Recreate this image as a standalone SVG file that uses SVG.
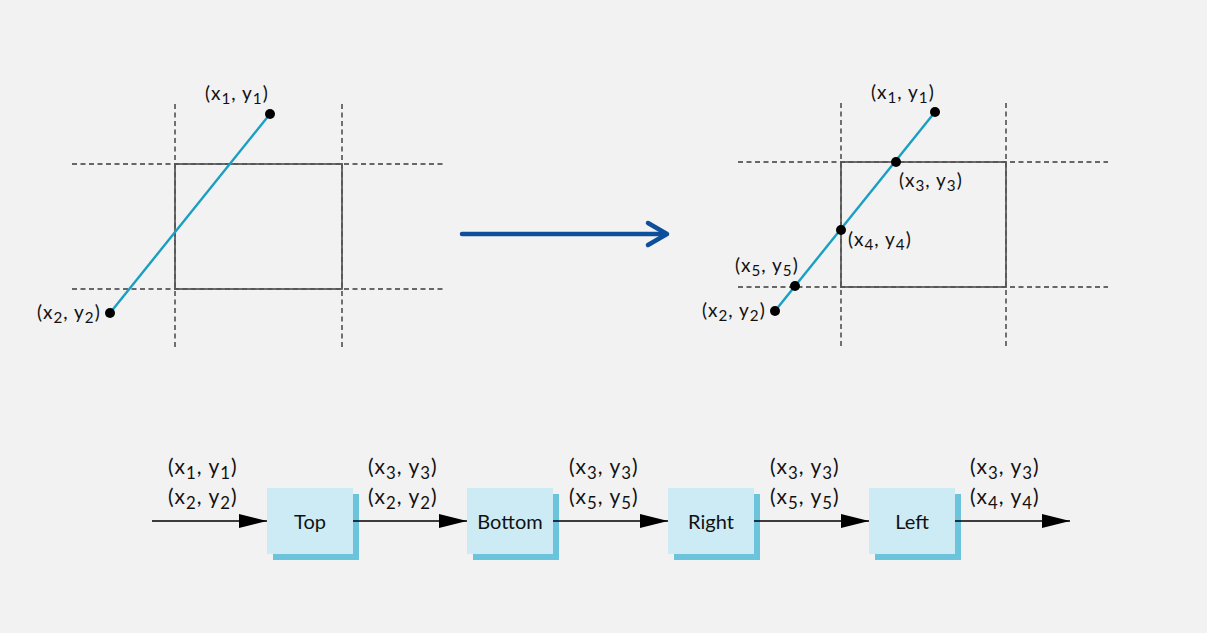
<svg xmlns="http://www.w3.org/2000/svg" width="1207" height="633" viewBox="0 0 1207 633">
<style>
.bg{fill:#f2f2f2}
.clip{fill:none;stroke:#555;stroke-width:1.7}
.dash{stroke:#3a3a3a;stroke-width:1.4;stroke-dasharray:5 3.5;fill:none}
.seg{stroke:#1a9fc2;stroke-width:2.4;fill:none}
.pt{fill:#000}
.lbl{font-family:Lato,"Open Sans","Liberation Sans",sans-serif;font-size:19px;letter-spacing:1px;fill:#111}
.lbl2{font-family:Lato,"Open Sans","Liberation Sans",sans-serif;font-size:21px;letter-spacing:1px;fill:#111}
.s{font-size:0.8em}
.box{fill:#cdebf5}
.shadow{fill:#6bc4dc}
.btxt{font-family:Lato,"Open Sans","Liberation Sans",sans-serif;font-size:20px;fill:#111;text-anchor:middle}
.flow{stroke:#000;stroke-width:1.5;fill:none}
.big{stroke:#0e4f9c;stroke-width:4.5;fill:none;stroke-linecap:round;stroke-linejoin:round}
</style>
<defs>
<marker id="ah" markerWidth="28" markerHeight="14" refX="28" refY="7" orient="auto" markerUnits="userSpaceOnUse">
<path d="M0,0 L28,7 L0,14 Z" fill="#000"/>
</marker>
</defs>
<rect class="bg" x="0" y="0" width="1207" height="633"/>

<g id="before">
<line class="dash" x1="72" y1="164" x2="445" y2="164"/>
<line class="dash" x1="72" y1="289" x2="445" y2="289"/>
<line class="dash" x1="175" y1="104" x2="175" y2="350"/>
<line class="dash" x1="342" y1="104" x2="342" y2="350"/>
<rect class="clip" x="175" y="164" width="167" height="125"/>
<line class="seg" x1="270" y1="114" x2="110" y2="313"/>
<circle class="pt" cx="270" cy="114" r="5"/>
<circle class="pt" cx="110" cy="313" r="5"/>
<text class="lbl" x="205" y="100">(x<tspan class="s" dy="4">1</tspan><tspan dy="-4">, y</tspan><tspan class="s" dy="4">1</tspan><tspan dy="-4">)</tspan></text>
<text class="lbl" x="37" y="319">(x<tspan class="s" dy="4">2</tspan><tspan dy="-4">, y</tspan><tspan class="s" dy="4">2</tspan><tspan dy="-4">)</tspan></text>
</g>

<g id="transform-arrow">
<line class="big" x1="462" y1="234" x2="666" y2="234"/>
<polyline class="big" points="648,223 667,234 648,245"/>
</g>

<g id="after">
<line class="dash" x1="738" y1="162" x2="1108" y2="162"/>
<line class="dash" x1="738" y1="287" x2="1108" y2="287"/>
<line class="dash" x1="841" y1="103" x2="841" y2="347"/>
<line class="dash" x1="1006" y1="103" x2="1006" y2="347"/>
<rect class="clip" x="841" y="162" width="165" height="125"/>
<line class="seg" x1="935" y1="112" x2="775" y2="311"/>
<circle class="pt" cx="935" cy="112" r="5"/>
<circle class="pt" cx="896" cy="162" r="5"/>
<circle class="pt" cx="841" cy="230" r="5"/>
<circle class="pt" cx="795" cy="286" r="5"/>
<circle class="pt" cx="775" cy="311" r="5"/>
<text class="lbl" x="871" y="99">(x<tspan class="s" dy="4">1</tspan><tspan dy="-4">, y</tspan><tspan class="s" dy="4">1</tspan><tspan dy="-4">)</tspan></text>
<text class="lbl" x="899" y="187">(x<tspan class="s" dy="4">3</tspan><tspan dy="-4">, y</tspan><tspan class="s" dy="4">3</tspan><tspan dy="-4">)</tspan></text>
<text class="lbl" x="848" y="246">(x<tspan class="s" dy="4">4</tspan><tspan dy="-4">, y</tspan><tspan class="s" dy="4">4</tspan><tspan dy="-4">)</tspan></text>
<text class="lbl" x="735" y="272">(x<tspan class="s" dy="4">5</tspan><tspan dy="-4">, y</tspan><tspan class="s" dy="4">5</tspan><tspan dy="-4">)</tspan></text>
<text class="lbl" x="702" y="317">(x<tspan class="s" dy="4">2</tspan><tspan dy="-4">, y</tspan><tspan class="s" dy="4">2</tspan><tspan dy="-4">)</tspan></text>
</g>

<g id="node-top">
<rect class="shadow" x="273" y="494" width="86" height="66"/>
<rect class="box" x="267" y="488" width="86" height="66"/>
<text class="btxt" x="310" y="529">Top</text>
</g>
<g id="node-bottom">
<rect class="shadow" x="473" y="494" width="86" height="66"/>
<rect class="box" x="467" y="488" width="86" height="66"/>
<text class="btxt" x="510" y="529">Bottom</text>
</g>
<g id="node-right">
<rect class="shadow" x="674" y="494" width="86" height="66"/>
<rect class="box" x="668" y="488" width="86" height="66"/>
<text class="btxt" x="711" y="529">Right</text>
</g>
<g id="node-left">
<rect class="shadow" x="875" y="494" width="86" height="66"/>
<rect class="box" x="869" y="488" width="86" height="66"/>
<text class="btxt" x="912" y="529">Left</text>
</g>

<g id="connectors">
<line class="flow" x1="152" y1="521" x2="267" y2="521" marker-end="url(#ah)"/>
<line class="flow" x1="353" y1="521" x2="467" y2="521" marker-end="url(#ah)"/>
<line class="flow" x1="553" y1="521" x2="668" y2="521" marker-end="url(#ah)"/>
<line class="flow" x1="754" y1="521" x2="869" y2="521" marker-end="url(#ah)"/>
<line class="flow" x1="955" y1="521" x2="1070" y2="521" marker-end="url(#ah)"/>
</g>

<g id="labels">
<text class="lbl2" x="168" y="474">(x<tspan class="s" dy="5">1</tspan><tspan dy="-5">, y</tspan><tspan class="s" dy="5">1</tspan><tspan dy="-5">)</tspan></text>
<text class="lbl2" x="168" y="504">(x<tspan class="s" dy="5">2</tspan><tspan dy="-5">, y</tspan><tspan class="s" dy="5">2</tspan><tspan dy="-5">)</tspan></text>
<text class="lbl2" x="368" y="474">(x<tspan class="s" dy="5">3</tspan><tspan dy="-5">, y</tspan><tspan class="s" dy="5">3</tspan><tspan dy="-5">)</tspan></text>
<text class="lbl2" x="368" y="504">(x<tspan class="s" dy="5">2</tspan><tspan dy="-5">, y</tspan><tspan class="s" dy="5">2</tspan><tspan dy="-5">)</tspan></text>
<text class="lbl2" x="569" y="474">(x<tspan class="s" dy="5">3</tspan><tspan dy="-5">, y</tspan><tspan class="s" dy="5">3</tspan><tspan dy="-5">)</tspan></text>
<text class="lbl2" x="569" y="504">(x<tspan class="s" dy="5">5</tspan><tspan dy="-5">, y</tspan><tspan class="s" dy="5">5</tspan><tspan dy="-5">)</tspan></text>
<text class="lbl2" x="770" y="474">(x<tspan class="s" dy="5">3</tspan><tspan dy="-5">, y</tspan><tspan class="s" dy="5">3</tspan><tspan dy="-5">)</tspan></text>
<text class="lbl2" x="770" y="504">(x<tspan class="s" dy="5">5</tspan><tspan dy="-5">, y</tspan><tspan class="s" dy="5">5</tspan><tspan dy="-5">)</tspan></text>
<text class="lbl2" x="970" y="474">(x<tspan class="s" dy="5">3</tspan><tspan dy="-5">, y</tspan><tspan class="s" dy="5">3</tspan><tspan dy="-5">)</tspan></text>
<text class="lbl2" x="970" y="504">(x<tspan class="s" dy="5">4</tspan><tspan dy="-5">, y</tspan><tspan class="s" dy="5">4</tspan><tspan dy="-5">)</tspan></text>
</g>
</svg>
